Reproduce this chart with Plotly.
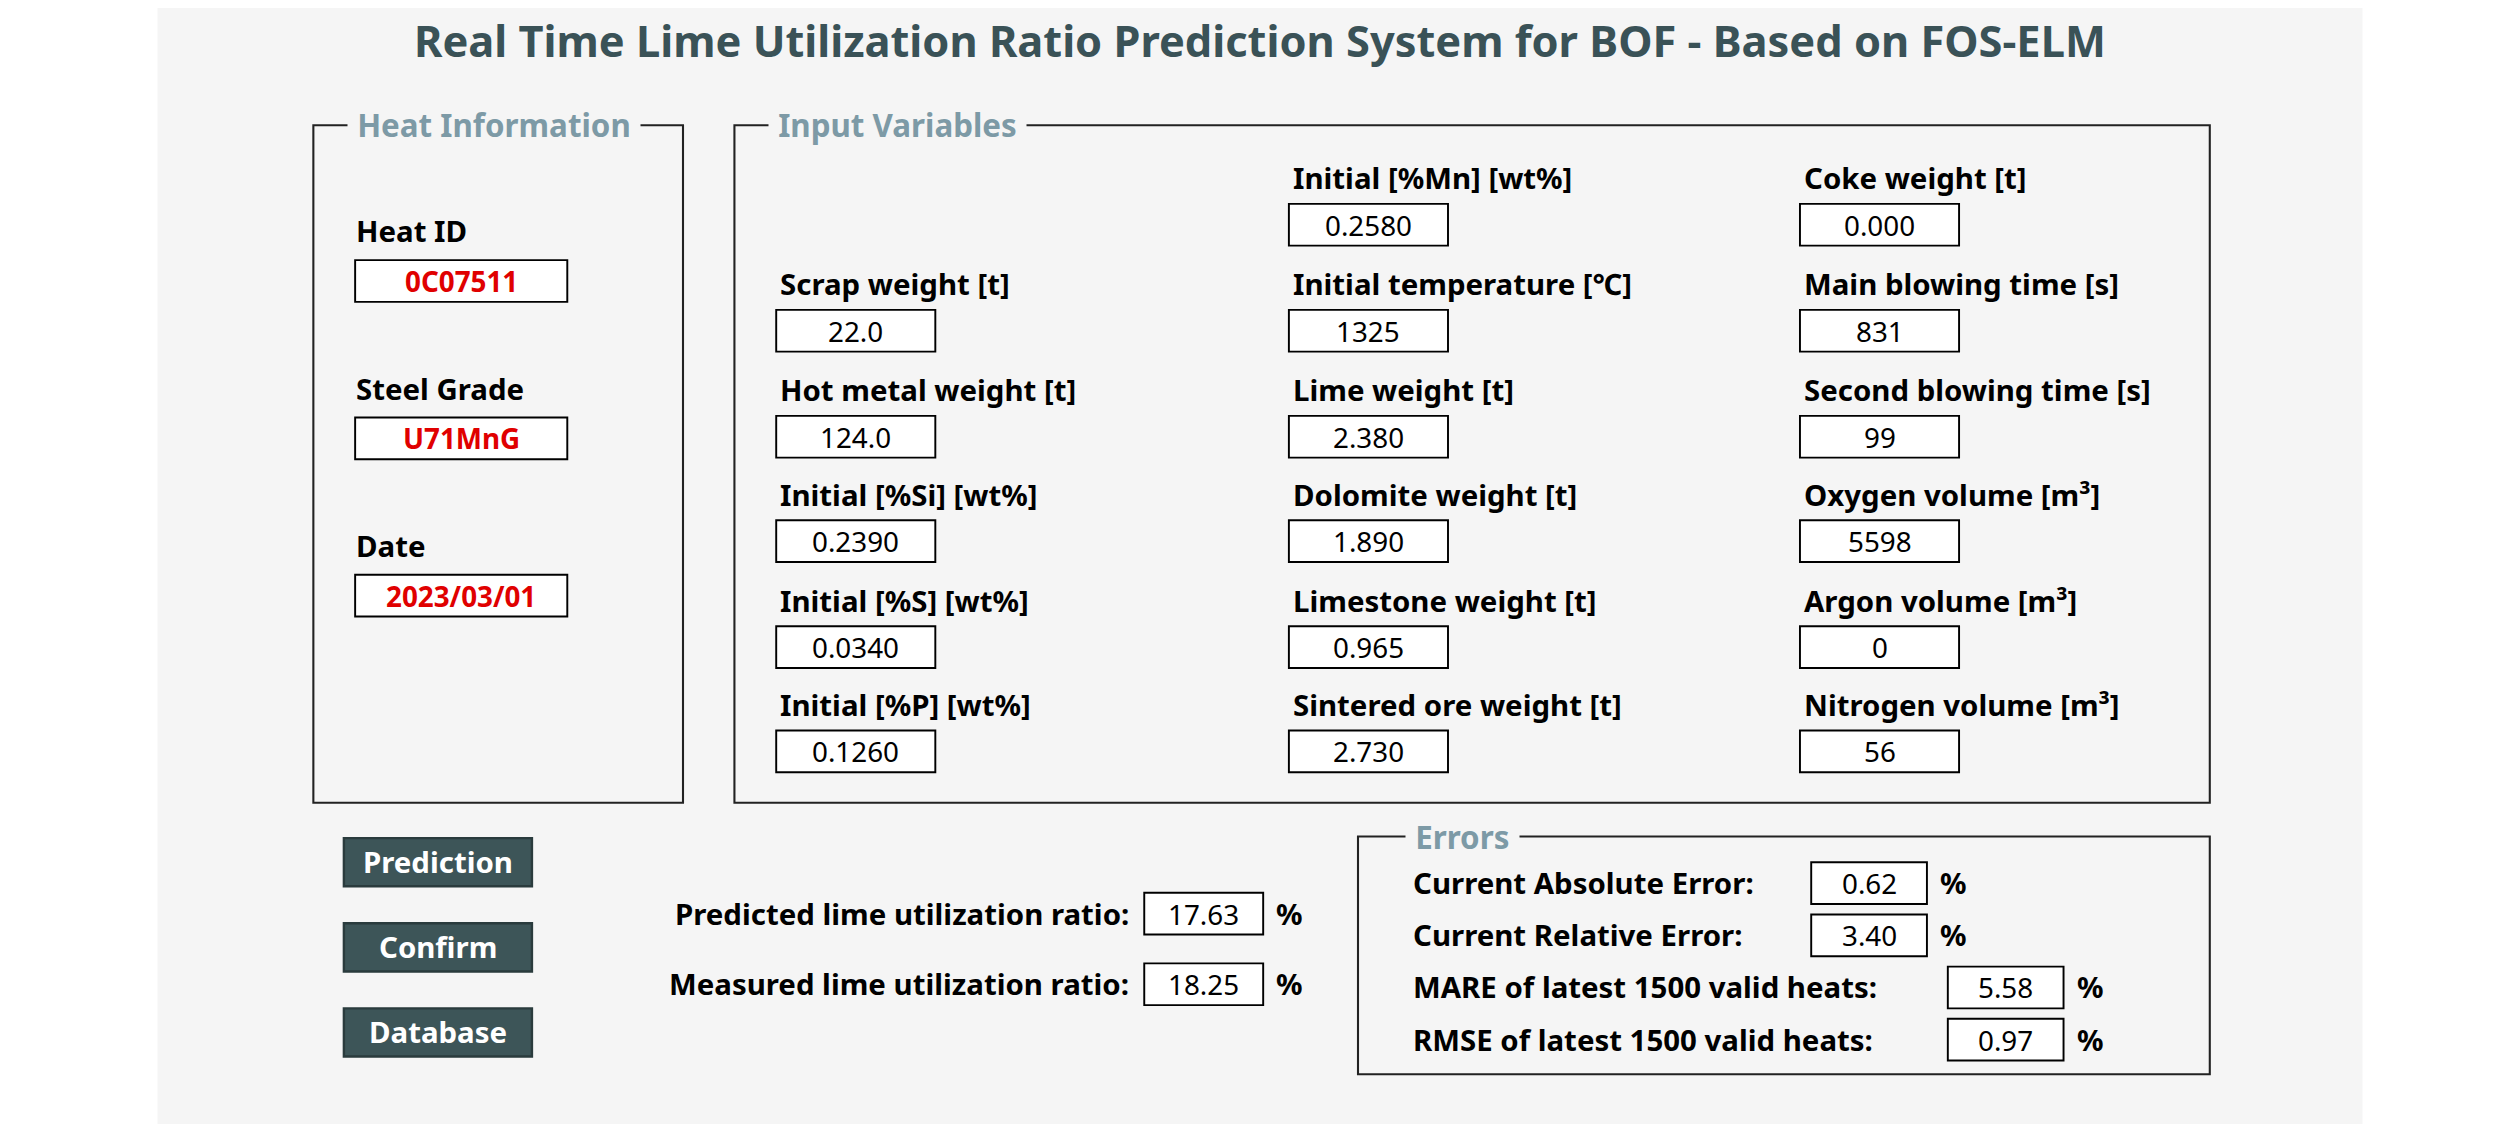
import plotly.graph_objects as go

# layout is drawn in the 1568x700 reference grid, scaled up to 2520x1124
W, H = 1568, 700
S = 2520 / 1568
OFF = 5  # page body margin compensation

title = "Real Time Lime Utilization Ratio Prediction System for BOF - Based on FOS-ELM"

heat_labels = ["Heat ID", "Steel Grade", "Date"]
heat_values = ["0C07511", "U71MnG", "2023/03/01"]

col1_labels = ["Scrap weight [t]", "Hot metal weight [t]", "Initial [%Si] [wt%]",
               "Initial [%S] [wt%]", "Initial [%P] [wt%]"]
col1_values = ["22.0", "124.0", "0.2390", "0.0340", "0.1260"]
col2_labels = ["Initial [%Mn] [wt%]", "Initial temperature [℃]", "Lime weight [t]",
               "Dolomite weight [t]", "Limestone weight [t]", "Sintered ore weight [t]"]
col2_values = ["0.2580", "1325", "2.380", "1.890", "0.965", "2.730"]
col3_labels = ["Coke weight [t]", "Main blowing time [s]", "Second blowing time [s]",
               "Oxygen volume [m³]", "Argon volume [m³]", "Nitrogen volume [m³]"]
col3_values = ["0.000", "831", "99", "5598", "0", "56"]

buttons = ["Prediction", "Confirm", "Database"]

ratio_labels = ["Predicted lime utilization ratio:", "Measured lime utilization ratio:"]
ratio_values = ["17.63", "18.25"]

error_labels = ["Current Absolute Error:", "Current Relative Error:",
                "MARE of latest 1500 valid heats:", "RMSE of latest 1500 valid heats:"]
error_values = ["0.62", "3.40", "5.58", "0.97"]

BG = "#f5f5f5"
GROUP = "#7d9aa6"
FONT = "Noto Sans"

fig = go.Figure()
shapes, notes = [], []


def text(x, y, s, size=18.3, color="black", bold=True, xanchor="left", bg=None):
    notes.append(dict(x=x, y=y, text=f"<b>{s}</b>" if bold else s, showarrow=False,
                      xanchor=xanchor, yanchor="middle", bgcolor=bg,
                      font=dict(family=FONT, size=size * S, color=color)))


def box(x0, y0, x1, y1, fill="white", line="black", width=1.2):
    shapes.append(dict(type="rect", x0=x0, y0=y0, x1=x1, y1=y1, fillcolor=fill,
                       line=dict(color=line, width=width * S), layer="below"))


def field(x0, yc, w, s, color="black", bold=False, h=26):
    box(x0, yc - h / 2, x0 + w, yc + h / 2)
    text(x0 + w / 2, yc, s, size=17.3, color=color, bold=bold, xanchor="center")


def group(x0, y0, x1, y1, label, lx):
    box(x0, y0, x1, y1, fill=BG, line="#222", width=1.3)
    text(lx - 4, y0, "&nbsp;" + label + "&nbsp;", size=19.5, color=GROUP, bg=BG)


box(98, -10, 1470, 710, fill=BG, line=BG, width=0)
text(784, 25, title, size=27, color="#3a5257", xanchor="center")

group(195, 78, 425, 500, "Heat Information", 220)
for i, (lab, val) in enumerate(zip(heat_labels, heat_values)):
    yl = 144 + i * 98
    text(220, yl, lab)
    field(221, yl + 31, 132, val, color="#e00000", bold=True)

group(457, 78, 1375, 500, "Input Variables", 482)
row_y = [111, 177, 243, 308, 374, 439]
for col, (labs, vals, off) in enumerate([(col1_labels, col1_values, 1),
                                         (col2_labels, col2_values, 0),
                                         (col3_labels, col3_values, 0)]):
    lx = [484, 803, 1121][col]
    bx = [483, 802, 1120][col]
    for j, (lab, val) in enumerate(zip(labs, vals)):
        y = row_y[j + off]
        text(lx, y, lab)
        field(bx, y + 29, 99, val)

for i, b in enumerate(buttons):
    yc = 537 + i * 53
    shapes.append(dict(type="rect", x0=214, y0=yc - 15, x1=331, y1=yc + 15,
                       fillcolor="#3d5558", line=dict(color="#2a3b3d", width=1.5 * S)))
    text(272.5, yc, b, size=18.3, color="white", xanchor="center")

for i, (lab, val) in enumerate(zip(ratio_labels, ratio_values)):
    yc = 569 + i * 44
    text(704, yc, lab, xanchor="right")
    field(712, yc, 74, val)
    text(793, yc, "%")

group(845, 521, 1375, 669, "Errors", 878)
for i, (lab, val) in enumerate(zip(error_labels, error_values)):
    yc = 550 + i * 32.5
    bx = 1127 if i < 2 else 1212
    text(878, yc, lab)
    field(bx, yc, 72, val)
    text(bx + 79, yc, "%")

fig.update_layout(width=2520, height=1124, margin=dict(l=0, r=0, t=0, b=0),
                  paper_bgcolor="white", plot_bgcolor="white", showlegend=False,
                  shapes=shapes, annotations=notes,
                  xaxis=dict(range=[OFF, W + OFF], visible=False, fixedrange=True),
                  yaxis=dict(range=[H + OFF, OFF], visible=False, fixedrange=True))
fig.write_html("out.html")
